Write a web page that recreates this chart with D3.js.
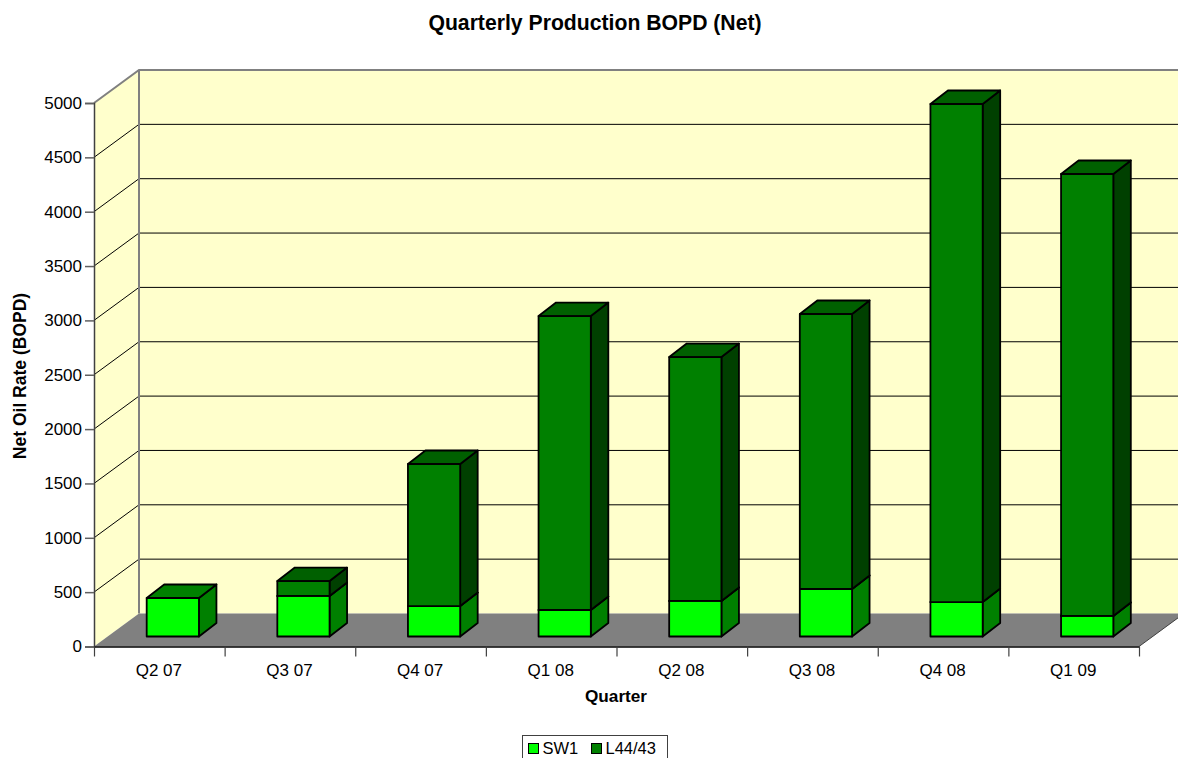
<!DOCTYPE html>
<html>
<head>
<meta charset="utf-8">
<script src="https://cdn.jsdelivr.net/npm/d3@7/dist/d3.min.js"></script>
<style>
html, body { margin: 0; padding: 0; background: #fff; overflow: hidden; }
text { font-family: "Liberation Sans", Arial, sans-serif; fill: #000; }
</style>
</head>
<body>
<div id="chart"></div>
<script>
var quarters = ["Q2 07", "Q3 07", "Q4 07", "Q1 08", "Q2 08", "Q3 08", "Q4 08", "Q1 09"];
var sw1 = [354, 373, 280, 244, 327, 437, 317, 189];
var l4443 = [0, 137, 1307, 2704, 2244, 2530, 4582, 4066];
var yTicks = [0, 500, 1000, 1500, 2000, 2500, 3000, 3500, 4000, 4500, 5000];
var seriesNames = ["SW1", "L44/43"];

var width = 1178, height = 758;

// front plane of the box, the walls sit depth px behind it
var plotLeft = 94, plotRight = 1139, plotBottom = 646.5, plotTop = 103;
var depth = { x: 45, y: -33 };
var barDepth = { x: 17.5, y: -13.5 };
var barShift = { x: 13.5, y: -10 };

var colors = {
    SW1: { front: "#00ff00", side: "#008000", top: "#008000" },
    "L44/43": { front: "#008000", side: "#004000", top: "#006000" }
};

var svg = d3.select("#chart").append("svg")
    .attr("width", width)
    .attr("height", height);

var xScale = d3.scaleBand().domain(quarters).range([plotLeft, plotRight]).paddingInner(0.6).paddingOuter(0.3);
var xEdge = d3.scaleLinear().domain([0, quarters.length]).range([plotLeft, plotRight]);
var yScale = d3.scaleLinear().domain([0, 5000]).range([plotBottom, plotTop]);

function pts(list) {
    return list.map(function(p) { return p[0] + "," + p[1]; }).join(" ");
}

// walls and floor
svg.append("rect")
    .attr("x", plotLeft + depth.x).attr("y", plotTop + depth.y)
    .attr("width", width - plotLeft - depth.x + 10).attr("height", plotBottom - plotTop)
    .attr("fill", "#ffffcc");
svg.append("polygon")
    .attr("points", pts([[plotLeft, plotTop], [plotLeft + depth.x, plotTop + depth.y], [plotLeft + depth.x, plotBottom + depth.y], [plotLeft, plotBottom]]))
    .attr("fill", "#ffffcc");
svg.append("polygon")
    .attr("points", pts([[plotLeft, plotBottom], [plotLeft + depth.x, plotBottom + depth.y], [plotRight + depth.x, plotBottom + depth.y], [plotRight, plotBottom]]))
    .attr("fill", "#808080");

// gridlines
var grid = svg.append("g").attr("stroke", "#000").attr("stroke-width", 1).attr("fill", "none");
yTicks.slice(1, -1).forEach(function(t) {
    var y = yScale(t);
    grid.append("polyline")
        .attr("points", pts([[plotLeft, y], [plotLeft + depth.x, y + depth.y], [width + 5, y + depth.y]]));
});

// wall edges
var edges = svg.append("g").attr("stroke", "#808080").attr("stroke-width", 2).attr("fill", "none");
edges.append("polyline")
    .attr("points", pts([[plotLeft, plotTop], [plotLeft + depth.x, plotTop + depth.y], [width + 5, plotTop + depth.y]]));
edges.append("line")
    .attr("x1", plotLeft + depth.x).attr("x2", plotLeft + depth.x)
    .attr("y1", plotTop + depth.y).attr("y2", plotBottom + depth.y);
svg.append("line")
    .attr("x1", plotRight).attr("y1", plotBottom)
    .attr("x2", plotRight + depth.x).attr("y2", plotBottom + depth.y)
    .attr("stroke", "#404040").attr("stroke-width", 1);

// axes
var yAxis = d3.axisLeft(yScale).tickValues(yTicks).tickSizeOuter(0).tickSize(9).tickPadding(3).tickFormat(d3.format("d"));
var yG = svg.append("g").attr("transform", "translate(" + plotLeft + ",0)").call(yAxis);
yG.select(".domain").attr("stroke", "#404040").attr("stroke-width", 1.5);
yG.selectAll("line").attr("stroke", "#606060").attr("stroke-width", 1.5);
yG.selectAll("text").attr("font-size", 17).attr("font-family", "Liberation Sans").attr("fill", "#000");

var xAxis = d3.axisBottom(xEdge).tickValues(d3.range(quarters.length + 1)).tickSize(10).tickSizeOuter(0).tickFormat("");
var xG = svg.append("g").attr("transform", "translate(0," + plotBottom + ")").call(xAxis);
xG.select(".domain").attr("stroke", "#000").attr("stroke-width", 1.5);
xG.selectAll("line").attr("stroke", "#404040").attr("stroke-width", 1.2);

svg.selectAll(".qlabel")
    .data(quarters)
    .enter().append("text")
    .attr("class", "qlabel")
    .attr("x", function(d, i) { return xEdge(i + 0.5) - 0.5; })
    .attr("y", 676)
    .attr("text-anchor", "middle")
    .attr("font-size", 17)
    .text(function(d) { return d; });

// stacked 3d bars
var rows = quarters.map(function(q, i) { return { q: q, SW1: sw1[i], "L44/43": l4443[i] }; });
var stacked = d3.stack().keys(seriesNames)(rows);

stacked.forEach(function(layer) {
    var c = colors[layer.key];
    var g = svg.append("g")
        .attr("stroke", "#000").attr("stroke-width", 1.8).attr("stroke-linejoin", "round");
    layer.forEach(function(d) {
        if (d[1] - d[0] <= 0) return;
        var x0 = xScale(d.data.q) + barShift.x;
        var x1 = x0 + xScale.bandwidth();
        var yTop = yScale(d[1]) + barShift.y;
        var yBot = yScale(d[0]) + barShift.y;
        g.append("polygon")
            .attr("points", pts([[x1, yBot], [x1 + barDepth.x, yBot + barDepth.y], [x1 + barDepth.x, yTop + barDepth.y], [x1, yTop]]))
            .attr("fill", c.side);
        g.append("polygon")
            .attr("points", pts([[x0, yTop], [x0 + barDepth.x, yTop + barDepth.y], [x1 + barDepth.x, yTop + barDepth.y], [x1, yTop]]))
            .attr("fill", c.top);
        g.append("rect")
            .attr("x", x0).attr("y", yTop)
            .attr("width", x1 - x0).attr("height", yBot - yTop)
            .attr("fill", c.front);
    });
});

// titles
svg.append("text").attr("x", 595).attr("y", 30)
    .attr("text-anchor", "middle").attr("font-size", 21.2).attr("font-weight", "bold")
    .text("Quarterly Production BOPD (Net)");
svg.append("text").attr("x", 616).attr("y", 702)
    .attr("text-anchor", "middle").attr("font-size", 17.2).attr("font-weight", "bold")
    .text("Quarter");
svg.append("text")
    .attr("transform", "translate(26,376) rotate(-90)")
    .attr("text-anchor", "middle").attr("font-size", 17.5).attr("font-weight", "bold")
    .text("Net Oil Rate (BOPD)");

// legend
svg.append("rect").attr("x", 522.5).attr("y", 735.5).attr("width", 145).attr("height", 30)
    .attr("fill", "#fff").attr("stroke", "#404040");
var legendX = [528.5, 591.5];
seriesNames.forEach(function(name, i) {
    svg.append("rect").attr("x", legendX[i]).attr("y", 743.5).attr("width", 10).attr("height", 10)
        .attr("fill", colors[name].front).attr("stroke", "#000");
    svg.append("text").attr("x", legendX[i] + 14).attr("y", 754).attr("font-size", 16.5).text(name);
});
</script>
</body>
</html>
